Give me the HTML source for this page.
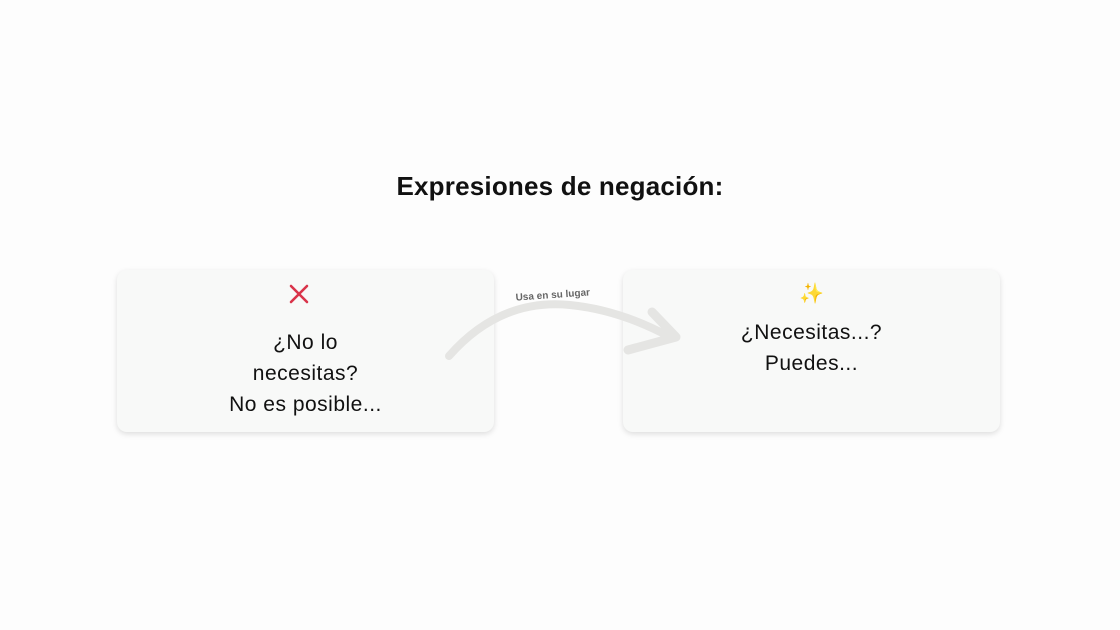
<!DOCTYPE html>
<html><head><style>
body{margin:0;width:1120px;height:630px;background:#fdfdfd;position:relative;font-family:"Liberation Sans",sans-serif;overflow:hidden}
.t{position:absolute;top:171px;left:0;width:1120px;text-align:center;font-weight:bold;font-size:26px;color:#111;letter-spacing:0.2px}
.card{position:absolute;top:270px;width:377px;height:162px;background:#f8f9f8;border-radius:10px;box-shadow:0 2px 6px rgba(0,0,0,.13)}
.txt{position:absolute;left:0;width:100%;text-align:center;font-size:21px;line-height:31px;color:#111;letter-spacing:0.5px}
</style></head><body>
<div class="t">Expresiones de negación:</div>
<div class="card" style="left:117px">
<svg style="position:absolute;left:171px;top:13px" width="22" height="22"><path d="M3 3L19 19M19 3L3 19" stroke="#d9344a" stroke-width="2.6" stroke-linecap="round"/></svg>
<div class="txt" style="top:57px">¿No lo<br>necesitas?<br>No es posible...</div>
</div>
<div class="card" style="left:623px">
<div style="position:absolute;left:0;width:100%;top:11px;text-align:center;font-size:20px;color:#f0a32a">✨</div>
<div class="txt" style="top:47px">¿Necesitas...?<br>Puedes...</div>
</div>
<svg style="position:absolute;left:0;top:0" width="1120" height="630">
<path d="M449 356 Q500 298 570 305 Q620 310 670 337" fill="none" stroke="#e5e5e3" stroke-width="8" stroke-linecap="round"/>
<path d="M652 312 L676 337 L628 350" fill="none" stroke="#e5e5e3" stroke-width="9" stroke-linecap="round" stroke-linejoin="round"/>
<text x="553" y="298" font-size="10" font-weight="bold" fill="#666" text-anchor="middle" transform="rotate(-4 553 298)" font-family="Liberation Sans,sans-serif">Usa en su lugar</text>
</svg>
</body></html>
